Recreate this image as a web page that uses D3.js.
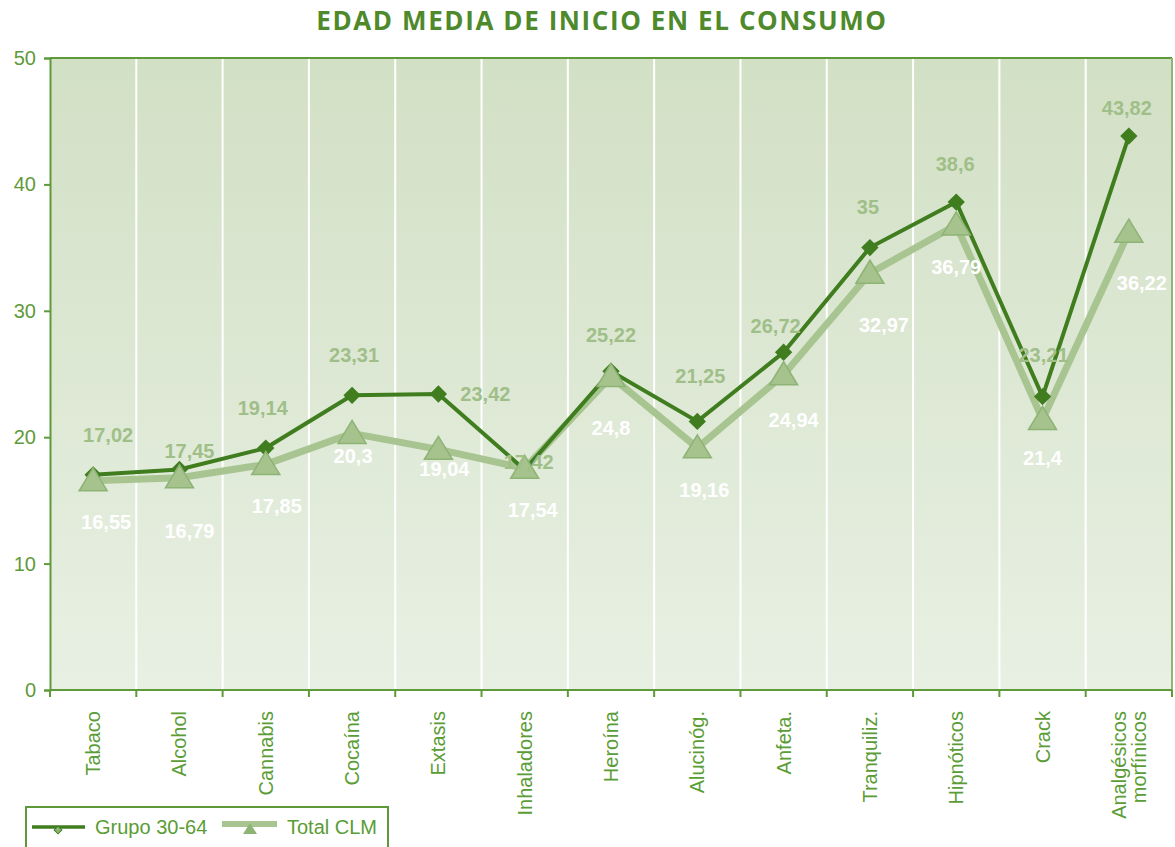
<!DOCTYPE html>
<html>
<head>
<meta charset="utf-8">
<script src="https://cdn.jsdelivr.net/npm/d3@7"></script>
<style>
  body { margin: 0; background: #fff; }
  text { font-family: "Liberation Sans", Arial, sans-serif; }
</style>
</head>
<body>
<svg id="chart" width="1175" height="847"></svg>
<script>
(function() {

  // data
  var categories = ["Tabaco", "Alcohol", "Cannabis", "Cocaína", "Extasis", "Inhaladores",
    "Heroína", "Alucinóg.", "Anfeta.", "Tranquiliz.", "Hipnóticos", "Crack", "Analgésicos\nmorfínicos"]
  var grupo = [17.02, 17.45, 19.14, 23.31, 23.42, 17.42, 25.22, 21.25, 26.72, 35, 38.6, 23.21, 43.82]
  var total = [16.55, 16.79, 17.85, 20.3, 19.04, 17.54, 24.8, 19.16, 24.94, 32.97, 36.79, 21.4, 36.22]
  var yTicks = [0, 10, 20, 30, 40, 50]
  var seriesNames = ["Grupo 30-64", "Total CLM"]

  var margin = { top: 58, left: 50, right: 3, bottom: 157 }
  var width = 1175 - margin.left - margin.right
  var height = 847 - margin.top - margin.bottom

  var dark = "#3f7d1f"
  var light = "#a8c591"
  var axisColor = "#5f9a3a"

  // label nudges (px) so the numbers sit where the original put them
  var grupoLabelDx = [15, 10, -3, 2, 47, 4, 0, 3, -8, -2, -1, 1, -2]
  var grupoLabelDy = [-40, -19, -40, -41, 0, -8, -36, -46, -26, -41, -38, -42, -28]
  var totalLabelDx = [13, 10, 11, 1, 6, 8, 0, 7, 10, 14, 0, 0, 13]
  var totalLabelDy = [41, 53, 41, 22, 19, 42, 51, 42, 45, 52, 42, 38, 51]

  var svg = d3.select("#chart")

  var defs = svg.append("defs")
  var grad = defs.append("linearGradient")
    .attr("id", "bg")
    .attr("x1", 0).attr("y1", 0).attr("x2", 0).attr("y2", 1)
  grad.append("stop").attr("offset", "0%").attr("stop-color", "#d2e0c5")
  grad.append("stop").attr("offset", "100%").attr("stop-color", "#e8f0e3")

  // title
  svg.append("text")
    .attr("x", 602)
    .attr("y", 30)
    .attr("text-anchor", "middle")
    .style("font-family", "'Open Sans', Lato, sans-serif")
    .style("font-weight", "bold")
    .style("font-size", "26px")
    .style("letter-spacing", "1.6px")
    .attr("fill", "#4e8a2b")
    .text("EDAD MEDIA DE INICIO EN EL CONSUMO")

  var g = svg.append("g")
    .attr("transform", "translate(" + margin.left + "," + margin.top + ")")

  var xBand = d3.scaleBand()
    .domain(categories)
    .range([0, width])
    .padding(0)

  var yScale = d3.scaleLinear()
    .domain([0, 50])
    .range([height, 0])

  function cx(d, i) { return xBand(categories[i]) + xBand.bandwidth() / 2 }

  // plot background
  g.append("rect")
    .attr("width", width)
    .attr("height", height)
    .attr("fill", "url(#bg)")

  // white separators
  g.selectAll(".sep")
    .data(categories.slice(1))
    .enter()
    .append("line")
    .attr("class", "sep")
    .attr("x1", function(d) { return xBand(d) })
    .attr("x2", function(d) { return xBand(d) })
    .attr("y1", 0)
    .attr("y2", height)
    .attr("stroke", "#fff")
    .attr("stroke-width", 2)

  // frame top / right
  g.append("line")
    .attr("x1", 0).attr("x2", width).attr("y1", 0).attr("y2", 0)
    .attr("stroke", axisColor).attr("stroke-width", 2)
  g.append("line")
    .attr("x1", width).attr("x2", width).attr("y1", 0).attr("y2", height)
    .attr("stroke", "#8fb476").attr("stroke-width", 2)

  // y axis
  var yAxis = d3.axisLeft(yScale).tickValues(yTicks).tickSize(6).tickPadding(8)
  var ya = g.append("g").attr("class", "axis y-axis").call(yAxis)
  ya.select(".domain").attr("stroke", axisColor).attr("stroke-width", 2)
  ya.selectAll(".tick line").attr("stroke", axisColor).attr("stroke-width", 2)
  ya.selectAll(".tick text")
    .attr("fill", axisColor)
    .style("font-size", "20px")
    .style("font-family", "'Liberation Sans', Arial, sans-serif")

  // x axis: ticks at band edges
  var edges = categories.map(function(d) { return xBand(d) }).concat([width])
  g.append("line")
    .attr("x1", 0).attr("x2", width).attr("y1", height).attr("y2", height)
    .attr("stroke", axisColor).attr("stroke-width", 2)
  g.selectAll(".xtick")
    .data(edges)
    .enter()
    .append("line")
    .attr("x1", function(d) { return d })
    .attr("x2", function(d) { return d })
    .attr("y1", height)
    .attr("y2", height + 7)
    .attr("stroke", axisColor)
    .attr("stroke-width", 2)

  var xl = g.selectAll(".xlabel")
    .data(categories)
    .enter()
    .append("text")
    .attr("class", "xlabel")
    .attr("transform", function(d) {
      return "translate(" + (xBand(d) + xBand.bandwidth() / 2) + "," + (height + 21) + ") rotate(-90)"
    })
    .attr("text-anchor", "end")
    .attr("fill", "#5a9c35")
    .style("font-size", "20px")
  xl.each(function(d) {
    var lines = d.split("\n")
    var el = d3.select(this)
    lines.forEach(function(line, k) {
      el.append("tspan")
        .attr("x", 0)
        .attr("y", (k - (lines.length - 1) / 2) * 20 + 7)
        .text(line)
    })
  })

  // lines
  var lineGen = d3.line()
    .x(function(d, i) { return cx(d, i) })
    .y(function(d) { return yScale(d) })

  g.append("path")
    .datum(total)
    .attr("d", lineGen)
    .attr("fill", "none")
    .attr("stroke", light)
    .attr("stroke-width", 7)
    .attr("stroke-linejoin", "round")

  g.append("path")
    .datum(grupo)
    .attr("d", lineGen)
    .attr("fill", "none")
    .attr("stroke", dark)
    .attr("stroke-width", 4)

  var diamond = d3.symbol().type(d3.symbolSquare).size(150)
  g.selectAll(".dia")
    .data(grupo)
    .enter()
    .append("path")
    .attr("class", "dia")
    .attr("d", diamond)
    .attr("transform", function(d, i) {
      return "translate(" + cx(d, i) + "," + yScale(d) + ") rotate(45)"
    })
    .attr("fill", dark)

  var tri = "M0,-13 L14,10 L-14,10 Z"
  g.selectAll(".tri")
    .data(total)
    .enter()
    .append("path")
    .attr("class", "tri")
    .attr("d", tri)
    .attr("transform", function(d, i) {
      return "translate(" + cx(d, i) + "," + yScale(d) + ")"
    })
    .attr("fill", "#a6c38d")
    .attr("stroke", "#8db375")
    .attr("stroke-width", 1.5)

  // value labels
  function fmt(v) { return String(v).replace(".", ",") }

  g.selectAll(".lblG")
    .data(grupo)
    .enter()
    .append("text")
    .attr("x", function(d, i) { return cx(d, i) + grupoLabelDx[i] })
    .attr("y", function(d, i) { return yScale(d) + grupoLabelDy[i] })
    .attr("dy", "0.36em")
    .attr("text-anchor", "middle")
    .attr("fill", "#a0bf88")
    .style("font-size", "20px")
    .style("font-weight", "bold")
    .text(fmt)

  g.selectAll(".lblT")
    .data(total)
    .enter()
    .append("text")
    .attr("x", function(d, i) { return cx(d, i) + totalLabelDx[i] })
    .attr("y", function(d, i) { return yScale(d) + totalLabelDy[i] })
    .attr("dy", "0.36em")
    .attr("text-anchor", "middle")
    .attr("fill", "#ffffff")
    .style("font-size", "20px")
    .style("font-weight", "bold")
    .text(fmt)

  // legend
  var leg = svg.append("g")
  leg.append("rect")
    .attr("x", 26).attr("y", 807)
    .attr("width", 362).attr("height", 50)
    .attr("fill", "#fff")
    .attr("stroke", axisColor)
    .attr("stroke-width", 2)

  leg.append("line")
    .attr("x1", 32).attr("x2", 85).attr("y1", 827).attr("y2", 827)
    .attr("stroke", dark).attr("stroke-width", 3.5)
  leg.append("path")
    .attr("d", d3.symbol().type(d3.symbolSquare).size(30))
    .attr("transform", "translate(58,830) rotate(45)")
    .attr("fill", "#8db375")
    .attr("stroke", dark)
  leg.append("text")
    .attr("x", 95).attr("y", 834)
    .attr("fill", "#5a9c35")
    .style("font-size", "20px")
    .text(seriesNames[0])

  leg.append("line")
    .attr("x1", 222).attr("x2", 277).attr("y1", 824).attr("y2", 824)
    .attr("stroke", light).attr("stroke-width", 6)
  leg.append("path")
    .attr("d", "M0,-6 L7,5 L-7,5 Z")
    .attr("transform", "translate(250,829)")
    .attr("fill", "#8db375")
  leg.append("text")
    .attr("x", 287).attr("y", 834)
    .attr("fill", "#5a9c35")
    .style("font-size", "20px")
    .text(seriesNames[1])

})()
</script>
</body>
</html>
